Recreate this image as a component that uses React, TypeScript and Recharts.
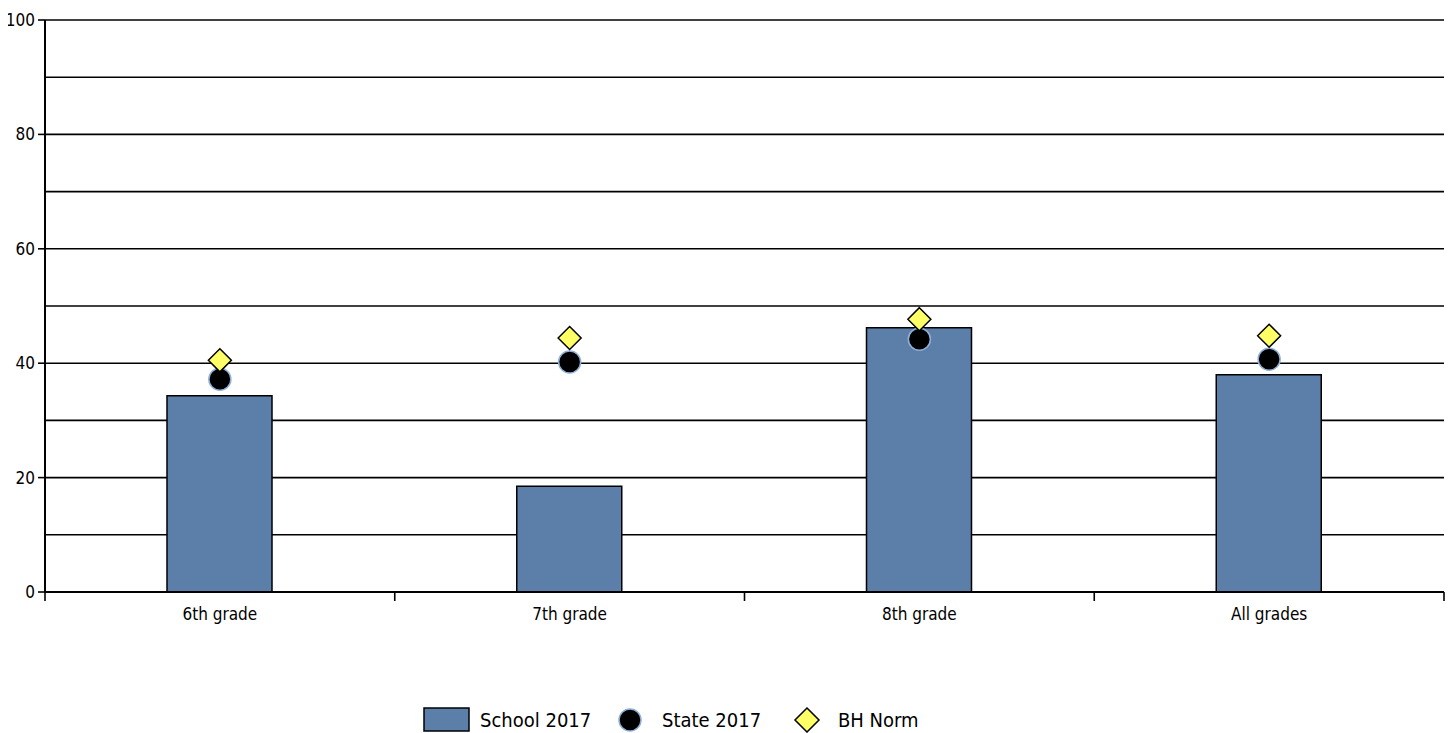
import React from 'react';
import { Bar, CartesianGrid, ComposedChart, Legend, Scatter, XAxis, YAxis } from 'recharts';

const grades = ['6th grade', '7th grade', '8th grade', 'All grades'];
const school2017 = [34.3, 18.5, 46.2, 38.0];
const state2017 = [37.2, 40.2, 44.2, 40.7];
const bhNorm = [40.5, 44.4, 47.7, 44.8];

const yTicks = [0, 20, 40, 60, 80, 100];
const gridValues = [0, 10, 20, 30, 40, 50, 60, 70, 80, 90, 100];

const data = grades.map((grade, i) => ({
  grade,
  school: school2017[i],
  state: state2017[i],
  norm: bhNorm[i],
}));

const FONT = '"DejaVu Sans Condensed", "Liberation Sans Narrow", sans-serif';
const BAR_FILL = '#5b7fa8';
const NORM_FILL = '#ffff66';
const DOT_RING = '#8fb1d9';

const X_TICK_SIZE = 8;
const X_TICK_MARGIN = 8;

// category label plus the divider ticks at the band edges
const GradeTick = (props: any) => {
  const { x, y, payload, width, index, visibleTicksCount } = props;
  const band = width / visibleTicksCount;
  const axisY = y - X_TICK_SIZE - X_TICK_MARGIN;
  const left = x - band / 2;
  const right = x + band / 2;
  return (
    <g>
      <line x1={left} y1={axisY} x2={left} y2={axisY + 9} stroke="#000" strokeWidth={1.6} />
      {index === visibleTicksCount - 1 && (
        <line x1={right} y1={axisY} x2={right} y2={axisY + 9} stroke="#000" strokeWidth={1.6} />
      )}
      <text x={x} y={y} dy="0.71em" textAnchor="middle" fill="#000" fontSize={17} fontFamily={FONT}>
        {payload.value}
      </text>
    </g>
  );
};

const Dot = (props: any) => {
  const { cx, cy } = props;
  if (cx == null || cy == null) return null;
  return <circle cx={cx} cy={cy} r={11} fill="#000" stroke={DOT_RING} strokeWidth={1.5} />;
};

const Diamond = (props: any) => {
  const { cx, cy } = props;
  if (cx == null || cy == null) return null;
  const r = 11.5;
  return (
    <polygon
      points={`${cx},${cy - r} ${cx + r},${cy} ${cx},${cy + r} ${cx - r},${cy}`}
      fill={NORM_FILL}
      stroke="#000"
      strokeWidth={1.5}
    />
  );
};

const LegendRow = () => (
  <div style={{ position: 'relative', height: 26, fontFamily: FONT, fontSize: 20, color: '#000' }}>
    <svg width={47} height={25} style={{ position: 'absolute', left: 423, top: 0 }}>
      <rect x={1} y={1} width={45} height={23} fill={BAR_FILL} stroke="#000" strokeWidth={1.5} />
    </svg>
    <span style={{ position: 'absolute', left: 480, top: 0, lineHeight: '26px' }}>School 2017</span>
    <svg width={26} height={26} style={{ position: 'absolute', left: 617, top: 0 }}>
      <circle cx={13} cy={13} r={11} fill="#000" stroke={DOT_RING} strokeWidth={1.5} />
    </svg>
    <span style={{ position: 'absolute', left: 662, top: 0, lineHeight: '26px' }}>State 2017</span>
    <svg width={28} height={28} style={{ position: 'absolute', left: 793, top: -1 }}>
      <polygon points="14,2 26,14 14,26 2,14" fill={NORM_FILL} stroke="#000" strokeWidth={1.5} />
    </svg>
    <span style={{ position: 'absolute', left: 838, top: 0, lineHeight: '26px' }}>BH Norm</span>
  </div>
);

export default function App() {
  return (
    <div style={{ width: 1453, height: 733, margin: '-8px 0 0 -8px', background: '#fff' }}>
      <ComposedChart
        width={1453}
        height={733}
        data={data}
        margin={{ top: 20, right: 9, left: 0, bottom: 0 }}
        style={{ fontFamily: FONT }}
      >
        <CartesianGrid
          vertical={false}
          horizontalValues={gridValues}
          stroke="#000"
          strokeWidth={1.6}
          yAxisId="left"
        />
        <XAxis
          dataKey="grade"
          height={115}
          axisLine={{ stroke: '#000', strokeWidth: 2 }}
          tickLine={false}
          tickSize={X_TICK_SIZE}
          tickMargin={X_TICK_MARGIN}
          tick={<GradeTick />}
        />
        <YAxis
          yAxisId="left"
          domain={[0, 100]}
          ticks={yTicks}
          width={45}
          axisLine={{ stroke: '#000', strokeWidth: 2 }}
          tickLine={{ stroke: '#000', strokeWidth: 1.6 }}
          tickSize={7}
          tickMargin={3}
          tick={{ fill: '#000', fontSize: 17 }}
        />
        <YAxis
          yAxisId="right"
          orientation="right"
          domain={[0, 100]}
          width={0}
          axisLine={{ stroke: '#000', strokeWidth: 2 }}
          tick={false}
          tickLine={false}
        />
        <Bar
          dataKey="school"
          name="School 2017"
          yAxisId="left"
          barSize={105}
          fill={BAR_FILL}
          stroke="#000"
          strokeWidth={1.5}
          isAnimationActive={false}
        />
        <Scatter
          dataKey="state"
          name="State 2017"
          yAxisId="left"
          shape={<Dot />}
          isAnimationActive={false}
        />
        <Scatter
          dataKey="norm"
          name="BH Norm"
          yAxisId="left"
          shape={<Diamond />}
          isAnimationActive={false}
        />
        <Legend verticalAlign="bottom" align="left" height={26} content={() => <LegendRow />} />
      </ComposedChart>
    </div>
  );
}
